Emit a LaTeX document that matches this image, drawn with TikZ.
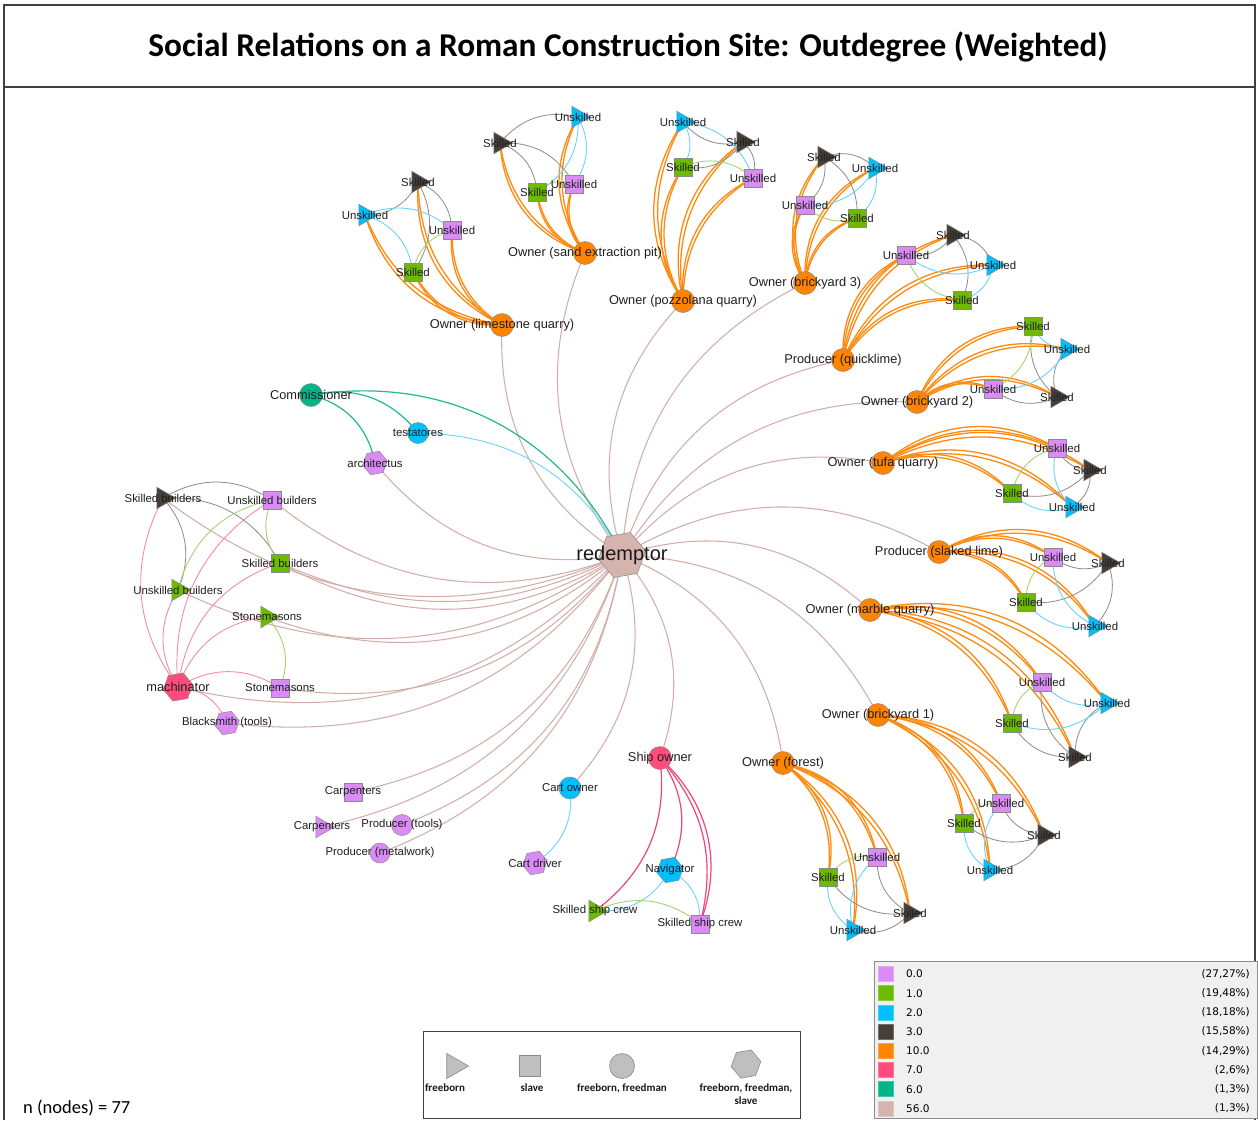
\documentclass[tikz,border=0pt]{standalone}
\usepackage{fontspec}
\setmainfont{Liberation Sans}
\newfontfamily\calib{Carlito}
\newfontfamily\dvs{DejaVu Sans}
\usetikzlibrary{shapes.geometric}
\pgfdeclarelayer{bglayer}
\pgfdeclarelayer{edgelayer}
\pgfsetlayers{bglayer,edgelayer,main}
\definecolor{c0}{HTML}{DA8BF6}
\definecolor{c1}{HTML}{6DBB00}
\definecolor{c2}{HTML}{00BFFF}
\definecolor{c3}{HTML}{463F38}
\definecolor{c10}{HTML}{FF8400}
\definecolor{c7}{HTML}{FF4C7D}
\definecolor{c6}{HTML}{00B58A}
\definecolor{c56}{HTML}{D4B4AD}
\definecolor{bordc}{HTML}{8A8A8A}
\definecolor{legbg}{HTML}{F0F0F0}
\definecolor{kros}{HTML}{D2AEA8}
\definecolor{kora}{HTML}{FF8A10}
\definecolor{kgry}{HTML}{8F8A84}
\definecolor{kcya}{HTML}{6AD3FF}
\definecolor{kgrn}{HTML}{A3D66E}
\definecolor{ktea}{HTML}{20B990}
\definecolor{kred}{HTML}{F78BAA}
\definecolor{kshp}{HTML}{F0457B}
\def\clusterlist{%
a/502/325/Owner (limestone quarry)/418/182/365/215/413/272/452/230,%
b/585/253/Owner (sand extraction pit)/500/143/578/117/537/192/574/184,%
c/683/301/Owner (pozzolana quarry)/743/142/683/122/683/167/753/178,%
d/805/283/Owner (brickyard 3)/824/157/875/168/857/218/805/205,%
e/843/360/Producer (quicklime)/953/235/993/265/962/300/906/255,%
f/917/402/Owner (brickyard 2)/1057/397/1067/349/1033/326/993/389,%
g/883/463/Owner (tufa quarry)/1090/470/1072/507/1012/493/1057/448,%
h/939/552/Producer (slaked lime)/1108/563/1095/626/1026/602/1053/557,%
i/870/610/Owner (marble quarry)/1075/757/1107/703/1012/723/1042/682,%
j/878/715/Owner (brickyard 1)/1044/835/990/870/964/823/1001/803,%
k/783/763/Owner (forest)/910/913/853/930/828/877/877/857}
\begin{document}
\begin{tikzpicture}[x=1pt,y=-1pt,
  shp/.style={draw=bordc, line width=0.5pt, inner sep=0pt, outer sep=0pt},
  circ/.style={shp, circle, minimum size=#1},
  sqr/.style={shp, rectangle, minimum size=#1},
  tri/.style={shp, regular polygon, regular polygon sides=3, shape border rotate=-90, minimum size=#1},
  hexa/.style={shp, regular polygon, regular polygon sides=6, shape border rotate=10, minimum size=#1},
  lbl/.style={font=\fontsize{11.4}{13}\selectfont, text=black!88, inner sep=0pt},
  lblb/.style={font=\fontsize{12.8}{15}\selectfont, text=black!88, inner sep=0pt},
  eros/.style={draw=kros, line width=1.05pt},
  eora/.style={draw=kora, line width=1.3pt},
  egry/.style={draw=kgry, line width=0.8pt},
  ecya/.style={draw=kcya, line width=0.9pt},
  egrn/.style={draw=kgrn, line width=0.9pt},
  etea/.style={draw=ktea, line width=1.2pt},
  ered/.style={draw=kred, line width=0.9pt},
  eship/.style={draw=kshp, line width=1.2pt},
  legtxt/.style={font=\dvs\fontsize{10.5}{12}\selectfont, text=black, inner sep=0pt},
  shplbl/.style={font=\calib\bfseries\fontsize{11}{12.5}\selectfont, text=black!90, inner sep=0pt},
  legshape/.style={draw=bordc, fill=black!25, line width=0.6pt, inner sep=0pt}
]
\useasboundingbox (0,0) rectangle (1258,1120);
\begin{pgfonlayer}{bglayer}
\fill[white] (0,0) rectangle (1258,1120);
\end{pgfonlayer}
% frame
\draw[line width=1.1pt, draw=black!75] (4,1120) -- (4,5) -- (1255,5) -- (1255,1120);
\draw[line width=1.1pt, draw=black!75] (4,87) -- (1255,87);
\node[font=\calib\bfseries\fontsize{33.3}{38}\selectfont, inner sep=0pt] (title) at (628,47) {Social Relations on a Roman Construction Site: Outdegree (Weighted)};

% ---------- cluster nodes
\foreach \cn/\ox/\oy/\ol/\dx/\dy/\bx/\by/\gx/\gy/\px/\py in \clusterlist {
  \node[circ=23, fill=c10] (\cn-O) at (\ox,\oy) {};
  \node[tri=25, fill=c3] (\cn-D) at (\dx,\dy) {};
  \node[tri=25, fill=c2] (\cn-B) at (\bx,\by) {};
  \node[sqr=18, fill=c1] (\cn-G) at (\gx,\gy) {};
  \node[sqr=18, fill=c0] (\cn-P) at (\px,\py) {};
}

% ---------- other nodes
\node[hexa=48, fill=c56] (R) at (622,555) {};
\node[circ=23, fill=c6] (COM) at (311,395) {};
\node[circ=21, fill=c2] (TES) at (418,433) {};
\node[hexa=25, fill=c0] (ARC) at (375,463) {};
\node[tri=25, fill=c3] (SB3) at (163,498) {};
\node[sqr=18, fill=c0] (UB0) at (272,500) {};
\node[sqr=18, fill=c1] (SB1) at (280,563) {};
\node[tri=25, fill=c1] (UB1) at (178,590) {};
\node[tri=25, fill=c1] (ST1) at (267,617) {};
\node[hexa=30, fill=c7] (MAC) at (178,687) {};
\node[sqr=18, fill=c0] (ST0) at (280,688) {};
\node[hexa=25, fill=c0] (BLK) at (227,723) {};
\node[sqr=18, fill=c0] (CAR0) at (353,792) {};
\node[tri=25, fill=c0] (CAR1) at (322,827) {};
\node[circ=21, fill=c0] (PT) at (402,825) {};
\node[circ=20, fill=c0] (PM) at (380,853) {};
\node[circ=22, fill=c2] (CO) at (570,788) {};
\node[hexa=25, fill=c0] (CD) at (535,863) {};
\node[circ=23, fill=c7] (SO) at (660,758) {};
\node[hexa=27, fill=c2] (NAV) at (670,870) {};
\node[tri=25, fill=c1] (SCT) at (595,911) {};
\node[sqr=18, fill=c0] (SCS) at (700,924) {};

% ---------- edges
\begin{pgfonlayer}{edgelayer}
\foreach \t in {a-O,b-O,c-O,d-O,e-O,f-O,g-O,h-O,i-O,j-O,k-O,ARC,SB3,UB0,SB1,UB1,ST1,ST0,MAC,BLK,CAR0,CAR1,PT,PM,CO,SO}
  \draw[eros] (R.center) to[bend left=30] (\t.center);
\draw[eros] (R.center) to[bend left=25] (SB1.center);
\foreach \cn in {a,b,c,d,e,f,g,h,i,j,k} {
  \foreach \w in {D,B,G,P} {
    \draw[eora] (\cn-O.center) to[bend left=29] (\cn-\w.center);
    \draw[eora] (\cn-O.center) to[bend left=34] (\cn-\w.center);
  }
  \draw[egry] (\cn-D.center) to[bend left=32] (\cn-B.center);
  \draw[egry] (\cn-D.center) to[bend left=32] (\cn-G.center);
  \draw[egry] (\cn-D.center) to[bend left=32] (\cn-P.center);
  \draw[ecya] (\cn-B.center) to[bend left=32] (\cn-G.center);
  \draw[ecya] (\cn-B.center) to[bend left=32] (\cn-P.center);
  \draw[egrn] (\cn-G.center) to[bend left=32] (\cn-P.center);
}
\draw[etea] (COM.center) to[bend left=36] (R.center);
\draw[etea] (COM.center) to[bend left=32] (TES.center);
\draw[etea] (COM.center) to[bend left=32] (ARC.center);
\draw[ecya] (TES.center) to[bend left=30] (R.center);
\foreach \t in {SB3,UB0,SB1,UB1,ST1,ST0,BLK}
  \draw[ered] (MAC.center) to[bend left=32] (\t.center);
\draw[egry] (SB3.center) to[bend left=32] (UB0.center);
\draw[egry] (SB3.center) to[bend left=32] (SB1.center);
\draw[egry] (SB3.center) to[bend left=32] (UB1.center);
\draw[egrn] (UB1.center) to[bend left=32] (UB0.center);
\draw[egrn] (SB1.center) to[bend left=32] (UB0.center);
\draw[egrn] (ST1.center) to[bend left=32] (ST0.center);
\draw[ecya] (CO.center) to[bend left=32] (CD.center);
\draw[eship] (SO.center) to[bend left=30] (NAV.center);
\draw[eship] (SO.center) to[bend left=30] (SCT.center);
\draw[eship] (SO.center) to[bend left=28] (SCS.center);
\draw[eship] (SO.center) to[bend left=34] (SCS.center);
\draw[ecya] (NAV.center) to[bend left=32] (SCT.center);
\draw[ecya] (NAV.center) to[bend left=32] (SCS.center);
\draw[egrn] (SCT.center) to[bend left=32] (SCS.center);
\end{pgfonlayer}

% ---------- labels
\foreach \cn/\ox/\oy/\ol/\dx/\dy/\bx/\by/\gx/\gy/\px/\py in \clusterlist {
  \node[lblb] (\cn-Ol) at (\cn-O) {\ol};
  \node[lbl] (\cn-Dl) at (\cn-D) {Skilled};
  \node[lbl] (\cn-Bl) at (\cn-B) {Unskilled};
  \node[lbl] (\cn-Gl) at (\cn-G) {Skilled};
  \node[lbl] (\cn-Pl) at (\cn-P) {Unskilled};
}
\node[font=\fontsize{20}{22}\selectfont, text=black!90, inner sep=0pt] (Rl) at (R) {redemptor};
\node[lblb] (COMl) at (COM) {Commissioner};
\node[lbl] (TESl) at (TES) {testatores};
\node[lbl] (ARCl) at (ARC) {architectus};
\node[lbl] (SB3l) at (SB3) {Skilled builders};
\node[lbl] (UB0l) at (UB0) {Unskilled builders};
\node[lbl] (SB1l) at (SB1) {Skilled builders};
\node[lbl] (UB1l) at (UB1) {Unskilled builders};
\node[lbl] (ST1l) at (ST1) {Stonemasons};
\node[lblb] (MACl) at (MAC) {machinator};
\node[lbl] (ST0l) at (ST0) {Stonemasons};
\node[lbl] (BLKl) at (BLK) {Blacksmith (tools)};
\node[lbl] (CAR0l) at (CAR0) {Carpenters};
\node[lbl] (CAR1l) at (CAR1) {Carpenters};
\node[lbl] (PTl) at (PT) {Producer (tools)};
\node[lbl] (PMl) at (PM) {Producer (metalwork)};
\node[lbl] (COl) at (CO) {Cart owner};
\node[lbl] (CDl) at (CD) {Cart driver};
\node[lblb] (SOl) at (SO) {Ship owner};
\node[lbl] (NAVl) at (NAV) {Navigator};
\node[lbl] (SCTl) at (SCT) {Skilled ship crew};
\node[lbl] (SCSl) at (SCS) {Skilled ship crew};

% ---------- shape legend
\node[draw=black!75, line width=0.8pt, fill=white, minimum width=377, minimum height=87, inner sep=0pt, anchor=north west] (shapeleg) at (423,1031) {};
\node[legshape, regular polygon, regular polygon sides=3, shape border rotate=-90, minimum size=29] (lgtri) at (454,1066) {};
\node[legshape, rectangle, minimum size=21] (lgsq) at (530,1066) {};
\node[legshape, circle, minimum size=25] (lgci) at (622,1066) {};
\node[legshape, regular polygon, regular polygon sides=6, shape border rotate=10, minimum size=30] (lghx) at (746,1064) {};
\node[shplbl] (lgtril) at (445,1088) {freeborn};
\node[shplbl] (lgsql) at (532,1088) {slave};
\node[shplbl] (lgcil) at (622,1088) {freeborn, freedman};
\node[shplbl, align=center] (lghxl) at (746,1094) {freeborn, freedman,\\slave};

% ---------- colour legend
\node[draw=black!45, line width=0.8pt, fill=legbg, minimum width=383, minimum height=157, inner sep=0pt, anchor=north west] (colleg) at (874,961) {};
\foreach \i/\col/\val/\pct in {0/c0/0.0/{(27,27\%)},1/c1/1.0/{(19,48\%)},2/c2/2.0/{(18,18\%)},3/c3/3.0/{(15,58\%)},4/c10/10.0/{(14,29\%)},5/c7/7.0/{(2,6\%)},6/c6/6.0/{(1,3\%)},7/c56/56.0/{(1,3\%)}} {
  \node[rectangle, fill=\col, draw=\col!75!white, line width=0.6pt, minimum size=15, inner sep=0pt] (lgc\i) at (886,{974+\i*19.2}) {};
  \node[legtxt, anchor=west] (lgv\i) at (906,{974+\i*19.2}) {\val};
  \node[legtxt, anchor=east] (lgp\i) at (1250,{974+\i*19.2}) {\pct};
}

\node[font=\calib\fontsize{18.5}{20}\selectfont, anchor=base west, inner sep=0pt] (nn) at (23,1113) {n (nodes) = 77};
\end{tikzpicture}
\end{document}
